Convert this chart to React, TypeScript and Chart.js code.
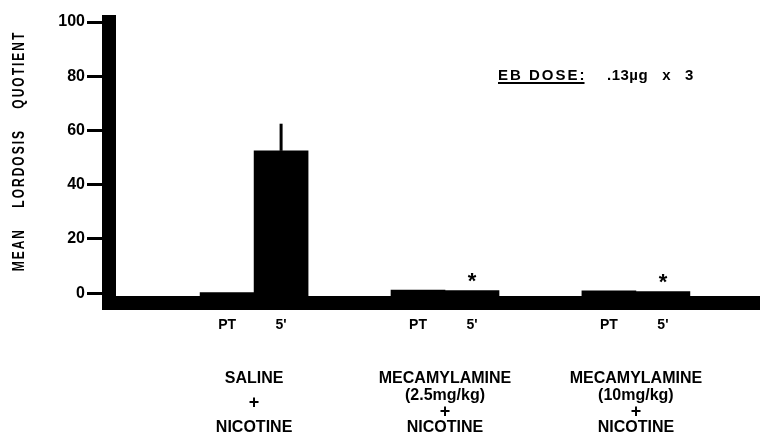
import { useEffect, useRef } from "react";
import { Chart, registerables } from "chart.js";

Chart.register(...registerables);

// ---- data ----
const groups = ["SALINE + NICOTINE", "MECAMYLAMINE (2.5mg/kg) + NICOTINE", "MECAMYLAMINE (10mg/kg) + NICOTINE"];
const groupLabelLines = [
  ["SALINE", "+", "NICOTINE"],
  ["MECAMYLAMINE", "(2.5mg/kg)", "+", "NICOTINE"],
  ["MECAMYLAMINE", "(10mg/kg)", "+", "NICOTINE"],
];
const seriesNames = ["PT", "5'"];
const ptValues = [0.2, 1.2, 0.9];
const fiveValues = [52.5, 1.0, 0.6];
const ptErrors = [0, 0, 0];
const fiveErrors = [10, 0, 0];
const fiveSignificant = [false, true, true];
const yTicks = [0, 20, 40, 60, 80, 100];
const yMin = -3.6;
const yMax = 100;
const xMin = -0.76;
const xMax = 2.65;
const yTitle = "MEAN LORDOSIS QUOTIENT";
const noteLabel = "EB DOSE:";
const noteValue = ".13µg   x   3";

const FONT = "'Liberation Sans', Arial, sans-serif";

const annotationPlugin = {
  id: "annotations",
  afterDatasetsDraw(chart: any) {
    const ctx: CanvasRenderingContext2D = chart.ctx;
    const ca = chart.chartArea;
    const yScale = chart.scales.y;
    const errs = [ptErrors, fiveErrors];
    ctx.save();
    ctx.fillStyle = "#000";
    ctx.strokeStyle = "#000";

    // error bars + asterisks + PT / 5' labels
    seriesNames.forEach((_, si) => {
      const meta = chart.getDatasetMeta(si);
      meta.data.forEach((bar: any, i: number) => {
        const vals = si === 0 ? ptValues : fiveValues;
        const e = errs[si][i];
        if (e > 0) {
          ctx.lineWidth = 3;
          ctx.beginPath();
          ctx.moveTo(bar.x, bar.y);
          ctx.lineTo(bar.x, yScale.getPixelForValue(vals[i] + e));
          ctx.stroke();
        }
        if (si === 1 && fiveSignificant[i]) {
          ctx.font = `bold 22px ${FONT}`;
          ctx.textAlign = "center";
          ctx.textBaseline = "alphabetic";
          ctx.fillText("*", bar.x, bar.y - 3);
        }
        ctx.font = `bold 14px ${FONT}`;
        ctx.textAlign = "center";
        ctx.textBaseline = "middle";
        ctx.fillText(seriesNames[si], bar.x, ca.bottom + 22);
      });
    });

    // group labels
    const xScale = chart.scales.x;
    ctx.textAlign = "center";
    ctx.textBaseline = "middle";
    groupLabelLines.forEach((lines, gi) => {
      const cx = xScale.getPixelForValue(gi);
      const top = ca.bottom + 76;
      const bottom = ca.bottom + 125;
      const step = (bottom - top) / (lines.length - 1);
      lines.forEach((ln, li) => {
        ctx.font = ln === "+" ? `bold 18px ${FONT}` : `bold 16px ${FONT}`;
        ctx.fillText(ln, cx, top + li * step);
      });
    });

    // y title
    ctx.save();
    ctx.translate(19, 151);
    ctx.rotate(-Math.PI / 2);
    ctx.scale(1, 1.4);
    ctx.font = `bold 12px ${FONT}`;
    (ctx as any).letterSpacing = "2px";
    (ctx as any).wordSpacing = "15px";
    ctx.textAlign = "center";
    ctx.textBaseline = "middle";
    ctx.fillText(yTitle, 0, 0);
    ctx.restore();

    // note
    ctx.font = `bold 15px ${FONT}`;
    (ctx as any).letterSpacing = "2px";
    ctx.textAlign = "left";
    ctx.textBaseline = "alphabetic";
    const nx = ca.left + 389;
    const ny = 80;
    ctx.fillText(noteLabel, nx, ny);
    const w = ctx.measureText(noteLabel).width;
    ctx.lineWidth = 2;
    ctx.beginPath();
    ctx.moveTo(nx, ny + 3);
    ctx.lineTo(nx + w - 2, ny + 3);
    ctx.stroke();
    (ctx as any).letterSpacing = "0.5px";
    ctx.fillText(noteValue, nx + 109, ny);
    ctx.restore();
  },
};

export default function App() {
  const ref = useRef<HTMLCanvasElement | null>(null);
  useEffect(() => {
    document.body.style.margin = "0";
    if (!ref.current) return;
    const chart = new Chart(ref.current, {
      type: "bar",
      data: {
        datasets: seriesNames.map((name, si) => ({
          label: name,
          data: groups.map((_, i) => ({ x: i, y: (si === 0 ? ptValues : fiveValues)[i] })),
          backgroundColor: "#000",
          borderWidth: 0,
          barThickness: 54,
          base: yMin,
        })),
      },
      options: {
        animation: false,
        responsive: false,
        layout: { padding: { top: 22, left: 0, right: 0, bottom: 0 } },
        plugins: { legend: { display: false }, tooltip: { enabled: false } },
        scales: {
          x: {
            type: "linear",
            offset: false,
            min: xMin,
            max: xMax,
            grid: { display: false, drawTicks: false, offset: false },
            border: { display: true, width: 14, color: "#000" },
            ticks: { display: false },
            afterFit: (s: any) => {
              s.height = 133;
            },
          },
          y: {
            min: yMin,
            max: yMax,
            afterBuildTicks: (s: any) => {
              s.ticks = yTicks.map((v) => ({ value: v }));
            },
            grid: { drawOnChartArea: false, drawTicks: true, tickLength: 22, lineWidth: 3, color: "#000" },
            border: { display: true, width: 14, color: "#000" },
            ticks: { color: "#000", font: { family: FONT, size: 16, weight: "bold" }, padding: 2 },
            afterFit: (s: any) => {
              s.width = 109;
            },
          },
        },
      } as any,
      plugins: [annotationPlugin],
    });
    return () => chart.destroy();
  }, []);
  return (
    <div style={{ width: 760, height: 436 }}>
      <canvas ref={ref} width={760} height={436} style={{ display: "block" }} />
    </div>
  );
}
